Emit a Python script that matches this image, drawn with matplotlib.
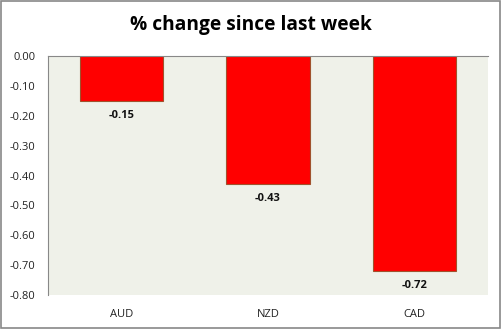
import matplotlib.pyplot as plt
from matplotlib.patches import Rectangle

categories = ["AUD", "NZD", "CAD"]
values = [-0.15, -0.43, -0.72]
yticks = [0.0, -0.1, -0.2, -0.3, -0.4, -0.5, -0.6, -0.7, -0.8]

plt.rcParams['font.family'] = ['Open Sans', 'DejaVu Sans']

fig = plt.figure(figsize=(5.02, 3.29), dpi=100)
ax = fig.add_axes([0.0956, 0.1033, 0.8765, 0.7265])
ax.set_facecolor('#eff1e9')

x = range(len(categories))
ax.bar(x, values, width=0.57, color='#ff0000', edgecolor='#a0522d', linewidth=0.8, zorder=2)

for xi, v in zip(x, values):
    ax.text(xi, v - 0.048, f"{v:.2f}", ha='center', va='center', fontsize=8,
            fontweight='bold', color='#111111')

ax.set_xlim(-0.5, 2.5)
ax.set_ylim(-0.8, 0.0)
ax.set_yticks(yticks)
ax.set_yticklabels([f"{t:.2f}" for t in yticks], fontsize=8, color='#222222')
ax.set_xticks(list(x))
ax.set_xticklabels(categories, fontsize=8, color='#222222')
ax.tick_params(axis='y', length=0, pad=9)
ax.tick_params(axis='x', length=0, pad=10)

for s in ['right', 'bottom']:
    ax.spines[s].set_visible(False)
ax.spines['left'].set_color('#888888')
ax.spines['top'].set_color('#888888')

fig.text(0.5, 0.924, "% change since last week", ha='center', va='center',
         fontsize=13.8, fontweight='bold', color='black')

fig.patches.append(Rectangle((0.002, 0.003), 0.994, 0.993, transform=fig.transFigure,
                             fill=False, edgecolor='#888888', linewidth=1.2))

fig.savefig('out.png', dpi=100)
